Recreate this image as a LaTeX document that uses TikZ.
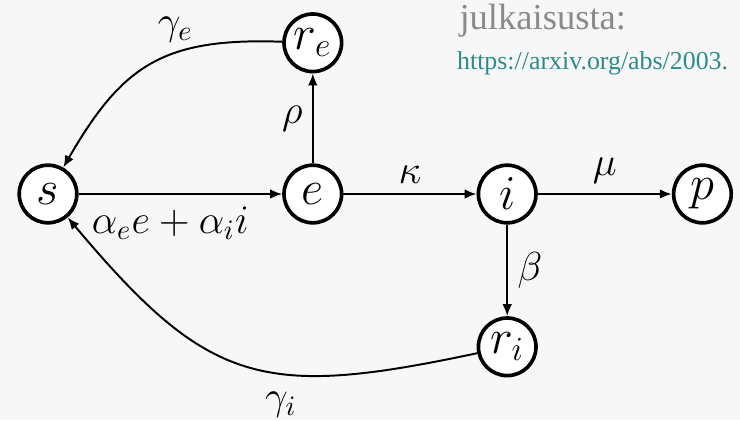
\documentclass[tikz,border=0pt]{standalone}
\usepackage{amsmath,amssymb}
\usepackage{fontspec}
\usepackage{tikz}
\usepackage{xcolor}
\usetikzlibrary{positioning,arrows.meta}
\newfontfamily\notefont{Liberation Serif}
\definecolor{notegray}{HTML}{8A8A8A}
\definecolor{linkteal}{HTML}{2E8B8B}
\definecolor{paper}{HTML}{F7F7F7}

\begin{document}
\begin{tikzpicture}[every node/.style={font=\Large},>={Latex[length=1.5mm,width=1.2mm]}]
    \tikzstyle{st}=[circle,draw,line width=1.3pt,minimum size=7.2mm,inner sep=0pt,fill=white,font=\LARGE];
    \tikzstyle{fl}=[->,line width=0.7pt];
    \fill[paper] (-0.6,-2.825) rectangle (8.65,2.425);
    \useasboundingbox (-0.6,-2.825) rectangle (8.65,2.425);
    \node[st] (s)  at (0,0)       {$s$};
    \node[st] (e)  at (3.31,0)    {$e$};
    \node[st] (re) at (3.31,1.89) {$r_e$};
    \node[st] (i)  at (5.74,0)    {$i$};
    \node[st] (p)  at (8.18,0)    {$p$};
    \node[st] (ri) at (5.74,-1.91){$r_i$};
    \draw[fl] (s) -- node[pos=0.45,below=1pt]{$\alpha_e e+\alpha_i i$} (e);
    \draw[fl] (e) -- node[above]{$\kappa$} (i);
    \draw[fl] (i) -- node[above]{$\mu$} (p);
    \draw[fl] (e) -- node[left]{$\rho$} (re);
    \draw[fl] (i) -- node[right]{$\beta$} (ri);
    \draw[fl] (re) to[out=178,in=60,looseness=1.2] node[pos=0.38,above=0pt]{$\gamma_e$} (s);
    \draw[fl] (ri) to[out=192,in=-50,looseness=1.3] node[pos=0.4,below=3pt]{$\gamma_i$} (s);
    % source note
    \node[anchor=base west,text=notegray,font=\notefont\fontsize{13}{15}\selectfont] (src) at (5.02,2.06) {julkaisusta:};
    \node[anchor=base west,text=linkteal,font=\notefont\fontsize{9.2}{11}\selectfont] (url) at (4.99,1.56) {https://arxiv.org/abs/2003.};
\end{tikzpicture}
\end{document}
